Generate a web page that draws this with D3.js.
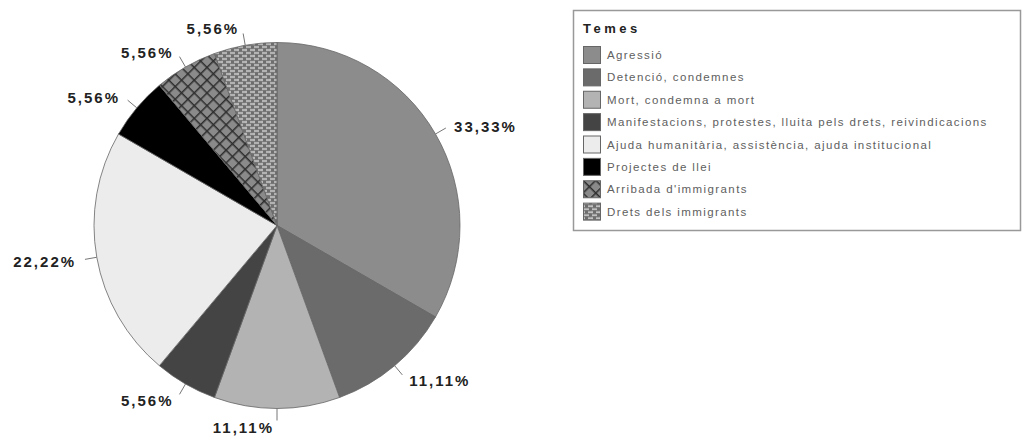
<!DOCTYPE html>
<html><head><meta charset="utf-8">
<script src="https://cdn.jsdelivr.net/npm/d3@7"></script>
<style>body{margin:0;background:#fff;}svg{display:block;}</style>
</head><body>
<svg id="c" width="1028" height="439"></svg>
<script>
const categories = ["Agressió","Detenció, condemnes","Mort, condemna a mort","Manifestacions, protestes, lluita pels drets, reivindicacions","Ajuda humanitària, assistència, ajuda institucional","Projectes de llei","Arribada d'immigrants","Drets dels immigrants"];
const counts = [6,2,2,1,4,1,1,1];
const pctLabels = ["33,33%","11,11%","11,11%","5,56%","22,22%","5,56%","5,56%","5,56%"];
const fills = ["#8c8c8c","#6b6b6b","#b3b3b3","#444444","#ececec","#000000","url(#pArr)","url(#pDrets)"];
const legendTitle = "Temes";

const svg = d3.select("#c");
const defs = svg.append("defs");
// Arribada: diamond crosshatch
const p1 = defs.append("pattern").attr("id","pArr").attr("patternUnits","userSpaceOnUse")
  .attr("width",9).attr("height",9).attr("patternTransform","rotate(45)");
p1.append("rect").attr("width",9).attr("height",9).attr("fill","#8a8a8a");
p1.append("line").attr("x1",0).attr("y1",0).attr("x2",9).attr("y2",0).attr("stroke","#2e2e2e").attr("stroke-width",3);
p1.append("line").attr("x1",0).attr("y1",0).attr("x2",0).attr("y2",9).attr("stroke","#2e2e2e").attr("stroke-width",3);
// Drets: brick-like dashes
const p2 = defs.append("pattern").attr("id","pDrets").attr("patternUnits","userSpaceOnUse")
  .attr("width",8).attr("height",6);
p2.append("rect").attr("width",8).attr("height",6).attr("fill","#6e6e6e");
p2.append("line").attr("x1",1).attr("y1",1.5).attr("x2",6).attr("y2",1.5).attr("stroke","#e6e6e6").attr("stroke-width",1.3);
p2.append("line").attr("x1",5).attr("y1",4.5).attr("x2",10).attr("y2",4.5).attr("stroke","#e6e6e6").attr("stroke-width",1.3);
p2.append("line").attr("x1",-3).attr("y1",4.5).attr("x2",2).attr("y2",4.5).attr("stroke","#e6e6e6").attr("stroke-width",1.3);

const cx = 277, cy = 225.5, r = 183;
const pie = d3.pie().sort(null).value(d => d)(counts);
const arc = d3.arc().innerRadius(0).outerRadius(r);
const g = svg.append("g").attr("transform",`translate(${cx},${cy})`);
g.selectAll("path.s").data(pie).join("path").attr("class","s")
  .attr("d",arc).attr("fill",(d,i)=>fills[i]).attr("stroke","#666").attr("stroke-width",0.8);

const mid = d => (d.startAngle + d.endAngle)/2;
g.selectAll("line.l").data(pie).join("line").attr("class","l")
  .attr("x1",d=>Math.sin(mid(d))*r).attr("y1",d=>-Math.cos(mid(d))*r)
  .attr("x2",d=>Math.sin(mid(d))*(r+12)).attr("y2",d=>-Math.cos(mid(d))*(r+12))
  .attr("stroke","#777").attr("stroke-width",1);
g.selectAll("text.p").data(pie).join("text").attr("class","p")
  .attr("x",d=>{const a=mid(d);const s=Math.sin(a)>1e-6?1:-1;return Math.sin(a)*(r+18)+s*3;})
  .attr("y",d=>-Math.cos(mid(d))*(r+18)+1)
  .attr("text-anchor",d=>Math.sin(mid(d))>1e-6?"start":"end")
  .attr("dominant-baseline","central")
  .attr("font-family","Liberation Sans, Arial, sans-serif").attr("font-weight","bold")
  .attr("font-size",15).attr("letter-spacing",2).attr("fill","#222")
  .text((d,i)=>pctLabels[i]);

// Legend
const lg = svg.append("g");
lg.append("rect").attr("x",573.5).attr("y",10.5).attr("width",447).attr("height",220)
  .attr("fill","#fff").attr("stroke","#999").attr("stroke-width",1.5);
lg.append("text").attr("x",583).attr("y",33).attr("font-family","Liberation Sans, Arial, sans-serif")
  .attr("font-weight","bold").attr("font-size",13).attr("letter-spacing",3.5).attr("fill","#222").text(legendTitle);
const ly = d3.scaleBand().domain(d3.range(categories.length)).range([45,224]);
const items = lg.selectAll("g.it").data(categories).join("g").attr("class","it")
  .attr("transform",(d,i)=>`translate(583,${ly(i)})`);
items.append("rect").attr("x",0.5).attr("y",1.5).attr("width",17).attr("height",17)
  .attr("fill",(d,i)=>fills[i]).attr("stroke","#666").attr("stroke-width",1);
items.append("text").attr("x",24).attr("y",10).attr("dominant-baseline","central")
  .attr("font-family","Liberation Sans, Arial, sans-serif").attr("font-size",11.5)
  .attr("letter-spacing",1.4).attr("fill","#606060").text(d=>d);
</script>
</body></html>
